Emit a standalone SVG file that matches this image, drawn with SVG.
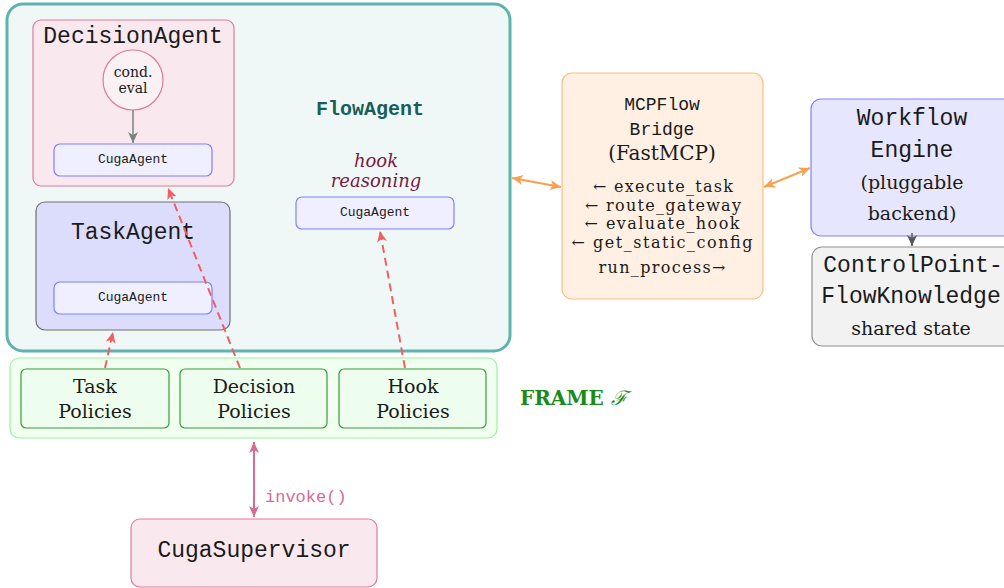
<svg xmlns="http://www.w3.org/2000/svg" width="1004" height="588" viewBox="0 0 1004 588">
<style>
.mono{font-family:"Liberation Mono","DejaVu Sans Mono",monospace;}
.serif{font-family:"DejaVu Serif","Liberation Serif",serif;}
text{text-anchor:middle;fill:#1a1a1a;}
.pink{fill:#f9e9ef;stroke:#e07a9a;stroke-width:1.2;}
.cuga{fill:#efefff;stroke:#8080ff;stroke-width:1.2;}
.pol{fill:#eefeee;stroke:#3a9a3a;stroke-width:1.2;}
.dash{stroke:#f06060;stroke-width:2;stroke-dasharray:8 5;fill:none;}
.orange{stroke:#f8a050;stroke-width:2;fill:none;}
</style>
<defs>
<marker id="aRed" markerUnits="userSpaceOnUse" markerWidth="12" markerHeight="10" refX="11" refY="5" orient="auto-start-reverse"><path d="M0,0 L11,5 L0,10 L3,5 z" fill="#f06060"/></marker>
<marker id="aOr" markerUnits="userSpaceOnUse" markerWidth="12" markerHeight="10" refX="11" refY="5" orient="auto-start-reverse"><path d="M0,0 L11,5 L0,10 L3,5 z" fill="#f8a050"/></marker>
<marker id="aPk" markerUnits="userSpaceOnUse" markerWidth="12" markerHeight="10" refX="11" refY="5" orient="auto-start-reverse"><path d="M0,0 L11,5 L0,10 L3,5 z" fill="#d86a94"/></marker>
<marker id="aGr" markerUnits="userSpaceOnUse" markerWidth="12" markerHeight="10" refX="11" refY="5" orient="auto-start-reverse"><path d="M0,0 L11,5 L0,10 L3,5 z" fill="#808080"/></marker>
<marker id="aDk" markerUnits="userSpaceOnUse" markerWidth="12" markerHeight="10" refX="11" refY="5" orient="auto-start-reverse"><path d="M0,0 L11,5 L0,10 L3,5 z" fill="#555555"/></marker>
</defs>
<rect width="1004" height="588" fill="#ffffff"/>

<g id="FlowAgent">
<rect x="7" y="4" width="503" height="347" rx="16" fill="#eff8f7" stroke="#5fb3ad" stroke-width="3"/>
<text x="370" y="115" class="mono" font-size="20" font-weight="bold" style="fill:#1a5c58">FlowAgent</text>
<text x="376" y="167" class="serif" font-size="18" font-style="italic" style="fill:#7a1a45">hook</text>
<text x="376" y="187" class="serif" font-size="18" font-style="italic" style="fill:#7a1a45">reasoning</text>
</g>
<g id="FlowCuga">
<rect x="296" y="197" width="158" height="32" rx="6" class="cuga"/>
<text x="375" y="216" class="mono" font-size="13">CugaAgent</text>
</g>

<g id="DecisionAgent">
<rect x="33" y="20" width="201" height="166" rx="8" class="pink"/>
<text x="133" y="43" class="mono" font-size="23">DecisionAgent</text>
</g>
<g id="CondEval">
<circle cx="133" cy="80" r="30" fill="#f9f1f4" stroke="#e07a9a" stroke-width="1.2"/>
<text x="133" y="77" class="serif" font-size="14">cond.</text>
<text x="133" y="93" class="serif" font-size="14">eval</text>
</g>
<g id="DecisionCuga">
<rect x="54" y="144" width="158" height="32" rx="6" class="cuga"/>
<text x="133" y="163" class="mono" font-size="13">CugaAgent</text>
</g>

<g id="TaskAgent">
<rect x="36" y="202" width="194" height="128" rx="9" fill="#dcdcfc" stroke="#707070" stroke-width="1.2"/>
<text x="133" y="239" class="mono" font-size="23">TaskAgent</text>
</g>
<g id="TaskCuga">
<rect x="54" y="282" width="158" height="32" rx="6" class="cuga"/>
<text x="133" y="301" class="mono" font-size="13">CugaAgent</text>
</g>

<g id="Frame">
<rect x="10" y="358" width="487" height="80" rx="9" fill="#f0fff0" stroke="#a0f0a0" stroke-width="1.2"/>
<text x="520" y="405" class="serif" font-size="20" font-weight="bold" style="fill:#1a8a1a;text-anchor:start">FRAME <tspan font-style="italic" font-weight="normal">ℱ</tspan></text>
</g>
<g id="TaskPolicies">
<rect x="21" y="369" width="148" height="59" rx="5" class="pol"/>
<text x="95" y="393" class="serif" font-size="19">Task</text>
<text x="95" y="418" class="serif" font-size="19">Policies</text>
</g>
<g id="DecisionPolicies">
<rect x="180" y="369" width="147" height="59" rx="5" class="pol"/>
<text x="254" y="393" class="serif" font-size="19">Decision</text>
<text x="254" y="418" class="serif" font-size="19">Policies</text>
</g>
<g id="HookPolicies">
<rect x="339" y="369" width="147" height="59" rx="5" class="pol"/>
<text x="413" y="393" class="serif" font-size="19">Hook</text>
<text x="413" y="418" class="serif" font-size="19">Policies</text>
</g>

<g id="CugaSupervisor">
<rect x="131" y="519" width="246" height="68" rx="9" class="pink"/>
<text x="254" y="557" class="mono" font-size="23">CugaSupervisor</text>
</g>

<g id="MCPFlowBridge">
<rect x="562" y="73" width="201" height="226" rx="10" fill="#fff0e3" stroke="#f8c080" stroke-width="1.2"/>
<text x="662" y="110" class="mono" font-size="18">MCPFlow</text>
<text x="662" y="135" class="mono" font-size="18">Bridge</text>
<text x="662" y="160" class="serif" font-size="20">(FastMCP)</text>
<text x="663" y="192" class="serif" font-size="16" textLength="140" lengthAdjust="spacing">← execute_task</text>
<text x="663" y="211" class="serif" font-size="16" textLength="156" lengthAdjust="spacing">← route_gateway</text>
<text x="662" y="229" class="serif" font-size="16" textLength="155" lengthAdjust="spacing">← evaluate_hook</text>
<text x="662" y="248" class="serif" font-size="16" textLength="181" lengthAdjust="spacing">← get_static_config</text>
<text x="662" y="273" class="serif" font-size="16" textLength="127" lengthAdjust="spacing">run_process→</text>
</g>

<g id="WorkflowEngine">
<rect x="811" y="99" width="210" height="137" rx="10" fill="#e6e6ff" stroke="#8080ff" stroke-width="1.2"/>
<text x="912" y="125" class="mono" font-size="23">Workflow</text>
<text x="912" y="157" class="mono" font-size="23">Engine</text>
<text x="912" y="189" class="serif" font-size="19">(pluggable</text>
<text x="912" y="220" class="serif" font-size="19">backend)</text>
</g>

<g id="ControlPointFlowKnowledge">
<rect x="812" y="247" width="210" height="99" rx="10" fill="#f2f2f2" stroke="#909090" stroke-width="1.2"/>
<text x="913" y="272" class="mono" font-size="23">ControlPoint-</text>
<text x="911" y="303" class="mono" font-size="23">FlowKnowledge</text>
<text x="911" y="335" class="serif" font-size="19">shared state</text>
</g>

<g id="connectors">
<line x1="133" y1="110" x2="133" y2="143" stroke="#808080" stroke-width="1.5" marker-end="url(#aGr)"/>
<line x1="105" y1="368" x2="113" y2="332" class="dash" marker-end="url(#aRed)"/>
<line x1="240" y1="368" x2="168" y2="188" class="dash" marker-end="url(#aRed)"/>
<line x1="405" y1="368" x2="380" y2="231" class="dash" marker-end="url(#aRed)"/>
<line x1="254" y1="442" x2="254" y2="517" stroke="#d86a94" stroke-width="2" marker-start="url(#aPk)" marker-end="url(#aPk)"/>
<text x="265" y="502" class="mono" font-size="17" style="fill:#d86a94;text-anchor:start">invoke()</text>
<line x1="512" y1="178" x2="561" y2="187" class="orange" marker-start="url(#aOr)" marker-end="url(#aOr)"/>
<line x1="764" y1="187" x2="810" y2="168" class="orange" marker-start="url(#aOr)" marker-end="url(#aOr)"/>
<line x1="912" y1="233" x2="912" y2="246" stroke="#555555" stroke-width="1.5" marker-end="url(#aDk)"/>
</g>
</svg>
